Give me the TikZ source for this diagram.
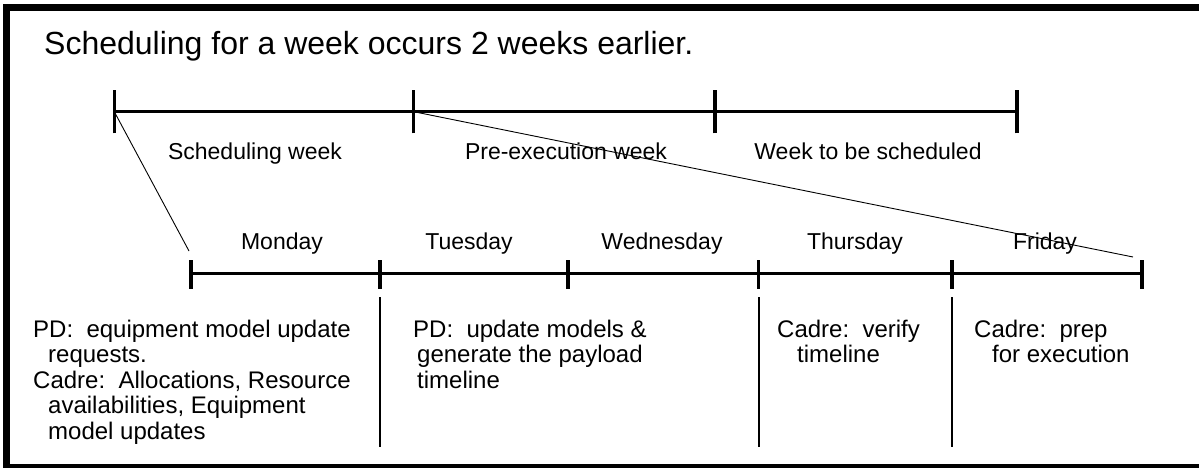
\documentclass[tikz,border=0pt]{standalone}
\usepackage{fontspec}
\setmainfont{Liberation Sans}
\begin{document}
\begin{tikzpicture}[x=1pt,y=-1pt,
  frame/.style={line width=7pt},
  axis/.style={line width=3.3pt},
  sepline/.style={line width=2pt},
  zoomline/.style={line width=0.9pt},
  titletext/.style={anchor=base west,inner sep=0pt,font=\fontsize{32}{36}\selectfont},
  wklabel/.style={anchor=base,inner sep=0pt,font=\fontsize{23}{26}\selectfont},
  daylabel/.style={anchor=base,inner sep=0pt,font=\fontsize{23}{26}\selectfont},
  bodytext/.style={anchor=base west,inner sep=0pt,font=\fontsize{24}{26}\selectfont}]
\useasboundingbox (0,0) rectangle (1199,468);
\clip (0,0) rectangle (1199,468);
% frame
\draw[frame] (6.5,475) -- (6.5,7.5) -- (1210,7.5);
\draw[frame] (3,467.5) -- (1210,467.5);
% title
\node[titletext] (title) at (44,55) {Scheduling for a week occurs 2 weeks earlier.};
% top timeline
\coordinate (T0) at (114.3,111.7);
\coordinate (T1) at (413.7,111.7);
\coordinate (T2) at (715,111.7);
\coordinate (T3) at (1017,111.7);
\draw[axis] (T0) -- (T3);
\foreach \p in {T0,T1,T2,T3} \draw[axis] ([yshift=-21.7pt]\p) -- ([yshift=21.6pt]\p);
\node[wklabel] (w1) at (255,159) {Scheduling week};
\node[wklabel] (w2) at (566,159) {Pre-execution week};
\node[wklabel] (w3) at (868,159) {Week to be scheduled};
% bottom timeline
\coordinate (D0) at (191,273.3);
\coordinate (D1) at (380,273.3);
\coordinate (D2) at (568,273.3);
\coordinate (D3) at (758.5,273.3);
\coordinate (D4) at (952,273.3);
\coordinate (D5) at (1142,273.3);
\draw[axis] (D0) -- (D5);
\foreach \p in {D0,D1,D2,D3,D4,D5} \draw[axis] ([yshift=13.3pt]\p) -- ([yshift=-15.7pt]\p);
\node[daylabel] (mon) at (282,249) {Monday};
\node[daylabel] (tue) at (469,249) {Tuesday};
\node[daylabel] (wed) at (662,249) {Wednesday};
\node[daylabel] (thu) at (855,249) {Thursday};
\node[daylabel] (fri) at (1045,249) {Friday};
% zoom lines
\coordinate (Z0) at (189,251);
\coordinate (Z1) at (1133,257);
\draw[zoomline] (T0) -- (Z0);
\draw[zoomline] (T1) -- (Z1);
% separators
\coordinate (S1a) at (380,297); \coordinate (S1b) at (380,447);
\coordinate (S2a) at (759,297); \coordinate (S2b) at (759,447);
\coordinate (S3a) at (952,297); \coordinate (S3b) at (952,447);
\draw[sepline] (S1a) -- (S1b);
\draw[sepline] (S2a) -- (S2b);
\draw[sepline] (S3a) -- (S3b);
% body texts
\node[bodytext] (a1) at (33,337) {PD:\ \ equipment model update};
\node[bodytext] (a2) at (48,362.5) {requests.};
\node[bodytext] (a3) at (33,388) {Cadre:\ \ Allocations, Resource};
\node[bodytext] (a4) at (48,413.5) {availabilities, Equipment};
\node[bodytext] (a5) at (48,439) {model updates};
\node[bodytext] (b1) at (413,337) {PD:\ \ update models \&};
\node[bodytext] (b2) at (417,362.5) {generate the payload};
\node[bodytext] (b3) at (417,388) {timeline};
\node[bodytext] (c1) at (777,337) {Cadre:\ \ verify};
\node[bodytext] (c2) at (797,362.5) {timeline};
\node[bodytext] (d1) at (974,337) {Cadre:\ \ prep};
\node[bodytext] (d2) at (992,362.5) {for execution};
\end{tikzpicture}
\end{document}
